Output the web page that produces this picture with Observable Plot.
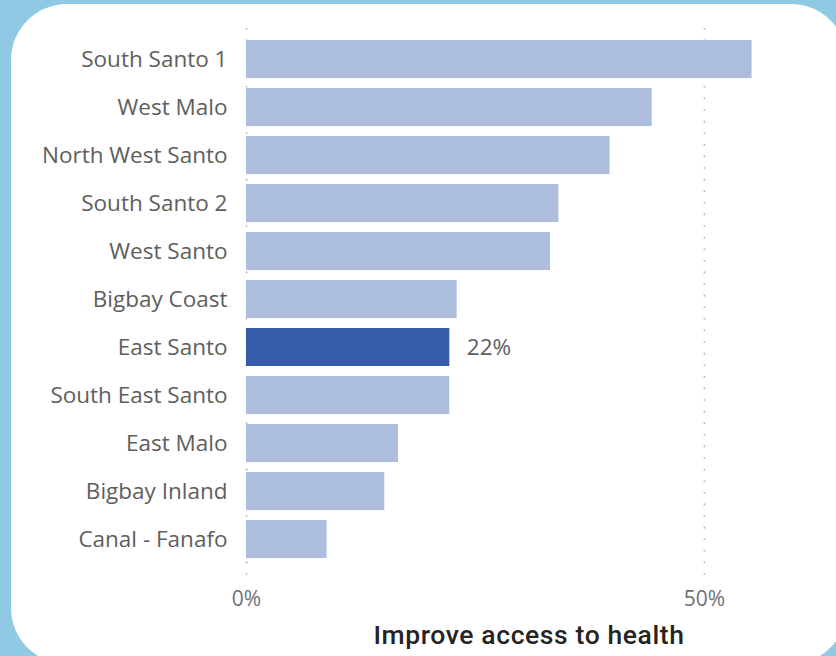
<!DOCTYPE html>
<html><head><meta charset="utf-8">
<script src="https://cdn.jsdelivr.net/npm/d3@7"></script>
<script src="https://cdn.jsdelivr.net/npm/@observablehq/plot@0.6"></script>
<style>
html,body{margin:0;padding:0;}
body{width:836px;height:656px;background:#8fc9e3;position:relative;overflow:hidden;}
#panel{position:absolute;left:11px;top:4px;width:836px;height:660px;background:#fff;border-radius:56px;}
#chart{position:absolute;left:0;top:0;}
#title{position:absolute;left:0;width:836px;top:618px;text-align:center;padding-left:222px;box-sizing:border-box;
  font-family:Roboto,sans-serif;font-weight:500;font-size:26.5px;color:#252423;letter-spacing:0.6px;line-height:34px;}
</style></head>
<body>
<div id="panel"></div>
<div id="chart"></div>
<div id="title">Improve access to health</div>
<script>
const regions = ["South Santo 1","West Malo","North West Santo","South Santo 2","West Santo","Bigbay Coast","East Santo","South East Santo","East Malo","Bigbay Inland","Canal - Fanafo"];
const shares = [0.552,0.443,0.397,0.341,0.332,0.230,0.222,0.222,0.166,0.151,0.088];
const highlighted = "East Santo";
const xTicks = [0, 0.5];

const data = regions.map((r,i)=>({region:r, value:shares[i], hi:r===highlighted}));

const chart = Plot.plot({
  width:836, height:656,
  marginLeft:246, marginRight:24, marginTop:40, marginBottom:98,
  style:{background:"transparent", fontFamily:"'Open Sans', sans-serif"},
  x:{domain:[0,0.618], axis:null},
  y:{domain:regions, paddingInner:0.21, paddingOuter:0, axis:null},
  marks:[
    Plot.ruleX(xTicks,{stroke:"#b0b0b0", strokeWidth:1.6, strokeDasharray:"1.6,10", insetTop:-12, insetBottom:-20}),
    Plot.barX(data,{y:"region", x:"value", fill:d=>d.hi?"#365ba9":"#adbddd"}),
    Plot.text(data.filter(d=>d.hi),{y:"region", x:"value", text:d=>d3.format(".0%")(d.value), dx:17, textAnchor:"start", fill:"#605e5c", fontSize:22.5}),
    Plot.axisY({tickSize:0, tickPadding:19, fontSize:22.5, color:"#605e5c", label:null}),
    Plot.axisX(xTicks,{tickSize:0, tickPadding:33, fontSize:21, color:"#707070", tickFormat:d3.format(".0%"), label:null})
  ]
});
document.getElementById("chart").appendChild(chart);
</script>
</body></html>
